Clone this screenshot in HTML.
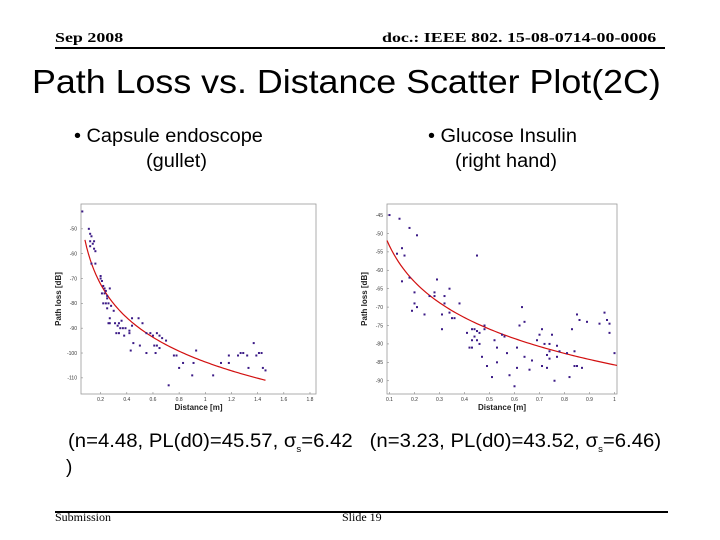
<!DOCTYPE html>
<html><head><meta charset="utf-8"><style>
html,body{margin:0;padding:0;background:#fff;width:720px;height:540px;overflow:hidden;position:relative}
.t{position:absolute;white-space:nowrap;color:#000;transform-origin:0 0}
.times{font-family:"Liberation Serif",serif}
.sans{font-family:"Liberation Sans",sans-serif}
svg{position:absolute;left:0;top:0}
</style></head><body>
<div class="t times" style="left:55px;top:31px;font-size:14px;font-weight:bold;transform:scaleX(1.28)">Sep 2008</div>
<div class="t times" style="left:382px;top:31px;font-size:14px;font-weight:bold;transform:scaleX(1.28)">doc.: IEEE 802. 15-08-0714-00-0006</div>
<div style="position:absolute;left:55px;top:47px;width:610px;height:2px;background:#000"></div>
<div class="t sans" style="left:32px;top:63px;font-size:33px;transform:scaleX(1.085)">Path Loss vs. Distance Scatter Plot(2C)</div>
<div class="t sans" style="left:74px;top:126px;font-size:19px;transform:scaleX(1.05)">• Capsule endoscope</div>
<div class="t sans" style="left:146px;top:151px;font-size:19px;transform:scaleX(1.05)">(gullet)</div>
<div class="t sans" style="left:428px;top:126px;font-size:19px;transform:scaleX(1.05)">• Glucose Insulin</div>
<div class="t sans" style="left:455px;top:151px;font-size:19px;transform:scaleX(1.05)">(right hand)</div>
<div class="t sans" style="left:68px;top:431px;font-size:19px;transform:scaleX(1.07)">(n=4.48, PL(d0)=45.57, σ<sub style="font-size:9px">s</sub>=6.42&nbsp;&nbsp; (n=3.23, PL(d0)=43.52, σ<sub style="font-size:9px">s</sub>=6.46)</div>
<div class="t sans" style="left:66px;top:457px;font-size:19px">)</div>
<div style="position:absolute;left:55px;top:511px;width:613px;height:2px;background:#000"></div>
<div class="t times" style="left:55px;top:510px;font-size:12px">Submission</div>
<div class="t times" style="left:342px;top:510px;font-size:12px">Slide 19</div>
<svg id="chart" width="720" height="540"></svg>
<script>
const c1X=[0.06,0.11,0.12,0.13,0.12,0.14,0.15,0.12,0.15,0.16,0.13,0.16,0.2,0.2,0.21,0.22,0.23,0.24,0.23,0.21,0.25,0.25,0.27,0.22,0.24,0.26,0.28,0.25,0.3,0.27,0.26,0.27,0.31,0.34,0.36,0.33,0.35,0.37,0.39,0.32,0.34,0.38,0.42,0.44,0.44,0.49,0.52,0.42,0.45,0.5,0.43,0.55,0.58,0.6,0.63,0.65,0.67,0.61,0.63,0.65,0.7,0.55,0.62,0.76,0.78,0.8,0.83,0.93,0.91,0.9,0.72,1.06,1.12,1.18,1.18,1.25,1.27,1.29,1.32,1.33,1.37,1.39,1.41,1.43,1.44,1.46];
const c1Y=[-43,-50,-52,-53,-55,-56,-55,-57,-58,-59,-64,-64,-69,-70,-71,-73,-74,-75,-76,-76,-77,-78,-74,-80,-80,-80,-81,-82,-83,-86,-88,-88,-88,-88,-87,-89,-90,-90,-90,-92,-92,-93,-91,-89,-86,-86,-88,-92,-96,-97,-99,-92,-92,-93,-92,-93,-94,-97,-97,-98,-95,-100,-100,-101,-101,-106,-104,-99,-104,-109,-113,-109,-104,-101,-104,-101,-100,-100,-101,-106,-96,-101,-100,-100,-106,-107];
const c1XTicks=[0.2,0.4,0.6,0.8,1,1.2,1.4,1.6,1.8];
const c1YTicks=[-50,-60,-70,-80,-90,-100,-110];
const c1Fit=[103.6,44.8]; // offset, slope (10n)
const c2X=[0.1,0.14,0.18,0.21,0.13,0.15,0.16,0.15,0.18,0.2,0.2,0.21,0.19,0.24,0.29,0.26,0.28,0.28,0.32,0.32,0.34,0.31,0.31,0.34,0.35,0.36,0.38,0.45,0.41,0.43,0.44,0.44,0.45,0.46,0.43,0.45,0.42,0.43,0.46,0.48,0.48,0.47,0.49,0.51,0.52,0.53,0.53,0.55,0.56,0.57,0.58,0.6,0.61,0.61,0.62,0.63,0.64,0.64,0.66,0.67,0.69,0.7,0.71,0.71,0.72,0.73,0.73,0.74,0.74,0.74,0.75,0.76,0.77,0.77,0.78,0.81,0.82,0.83,0.84,0.84,0.85,0.85,0.86,0.87,0.89,0.94,0.96,0.97,0.98,0.98,1.0];
const c2Y=[-45,-46,-48.5,-50.5,-55.5,-54,-56,-63,-62,-66,-69,-70,-71,-72,-62.5,-67,-66,-67,-67,-69,-65,-72,-76,-71.5,-73,-73,-69,-56,-77,-76,-76,-78,-76.5,-77,-79,-79,-81,-81,-80,-75,-76,-83.5,-86,-89,-79,-81,-85,-77.5,-78,-82.5,-88.5,-91.5,-86.5,-81,-75,-70,-74,-83.5,-87,-84.5,-79,-77.5,-86,-76,-80,-83,-86.5,-82,-84,-80,-77.5,-90,-80.5,-83.5,-82,-82.5,-89,-76,-82,-86,-86,-72,-73.5,-86.5,-74,-74.5,-71.5,-73.5,-74.5,-77,-82.5];
const c2XTicks=[0.1,0.2,0.3,0.4,0.5,0.6,0.7,0.8,0.9,1];
const c2YTicks=[-45,-50,-55,-60,-65,-70,-75,-80,-85,-90];
const c2Fit=[85.7,32.3];

const NS="http://www.w3.org/2000/svg";
const svg=document.getElementById('chart');
function mk(tag,attrs,parent){const e=document.createElementNS(NS,tag);for(const k in attrs)e.setAttribute(k,attrs[k]);(parent||svg).appendChild(e);return e;}
function drawChart(id,box,xd,yd,xs,ys,xt,yt,fit,fitRange){
  const g=mk('g',{});
  
  
  const sx=v=>box.l+(v-xd[0])/(xd[1]-xd[0])*(box.r-box.l);
  const sy=v=>box.t+(yd[1]-v)/(yd[1]-yd[0])*(box.b-box.t);
  const fr=mk('rect',{x:box.l,y:box.t,width:box.r-box.l,height:box.b-box.t,fill:'none',stroke:'#999','stroke-width':0.8},g);
  
  
  xt.forEach(v=>{const x=sx(v);
    mk('line',{x1:x,x2:x,y1:box.b,y2:box.b-2,stroke:'#888','stroke-width':0.6},g);
    const t=mk('text',{x:x,y:box.b+7,'font-size':5,'text-anchor':'middle','font-family':'Liberation Sans,sans-serif',fill:'#333'},g);
    t.textContent=v;
    
    });
  yt.forEach(v=>{const y=sy(v);
    mk('line',{x1:box.l,x2:box.l+2,y1:y,y2:y,stroke:'#888','stroke-width':0.6},g);
    const t=mk('text',{x:box.l-4,y:y+1.8,'font-size':5,'text-anchor':'end','font-family':'Liberation Sans,sans-serif',fill:'#333'},g);
    t.textContent=v;
    
    });
  const xtl=mk('text',{x:(box.l+box.r)/2,y:box.b+16,'font-size':8,'font-weight':'bold','text-anchor':'middle','font-family':'Liberation Sans,sans-serif',fill:'#222'},g);
  xtl.textContent='Distance [m]';
  
  
  const cy=(box.t+box.b)/2;
  const ytl=mk('text',{x:box.l-20,y:cy,'font-size':8,'font-weight':'bold','text-anchor':'middle','font-family':'Liberation Sans,sans-serif',fill:'#222',transform:`rotate(-90 ${box.l-20} ${cy})`},g);
  ytl.textContent='Path loss [dB]';
  
  
  let d='';
  for(let i=0;i<=100;i++){const v=fitRange[0]+(fitRange[1]-fitRange[0])*i/100;const y=-(fit[0]+fit[1]*Math.log10(v));d+=(i?'L':'M')+sx(v).toFixed(2)+' '+sy(y).toFixed(2);}
  const p=mk('path',{d:d,fill:'none',stroke:'#d21010','stroke-width':1.2},g);
  
  
  xs.forEach((v,i)=>{const r=mk('rect',{x:sx(v)-1,y:sy(ys[i])-1,width:2,height:2,fill:'#3b1a86'},g);
    
    });
}
drawChart('capsule-chart',{l:81,r:316,t:204,b:394},[0.05,1.846],[-116.5,-40],c1X,c1Y,c1XTicks,c1YTicks,c1Fit,[0.08,1.46]);
drawChart('glucose-chart',{l:387,r:617,t:204,b:394},[0.09,1.01],[-93.6,-42],c2X,c2Y,c2XTicks,c2YTicks,c2Fit,[0.09,1.01]);
</script>
</body></html>
